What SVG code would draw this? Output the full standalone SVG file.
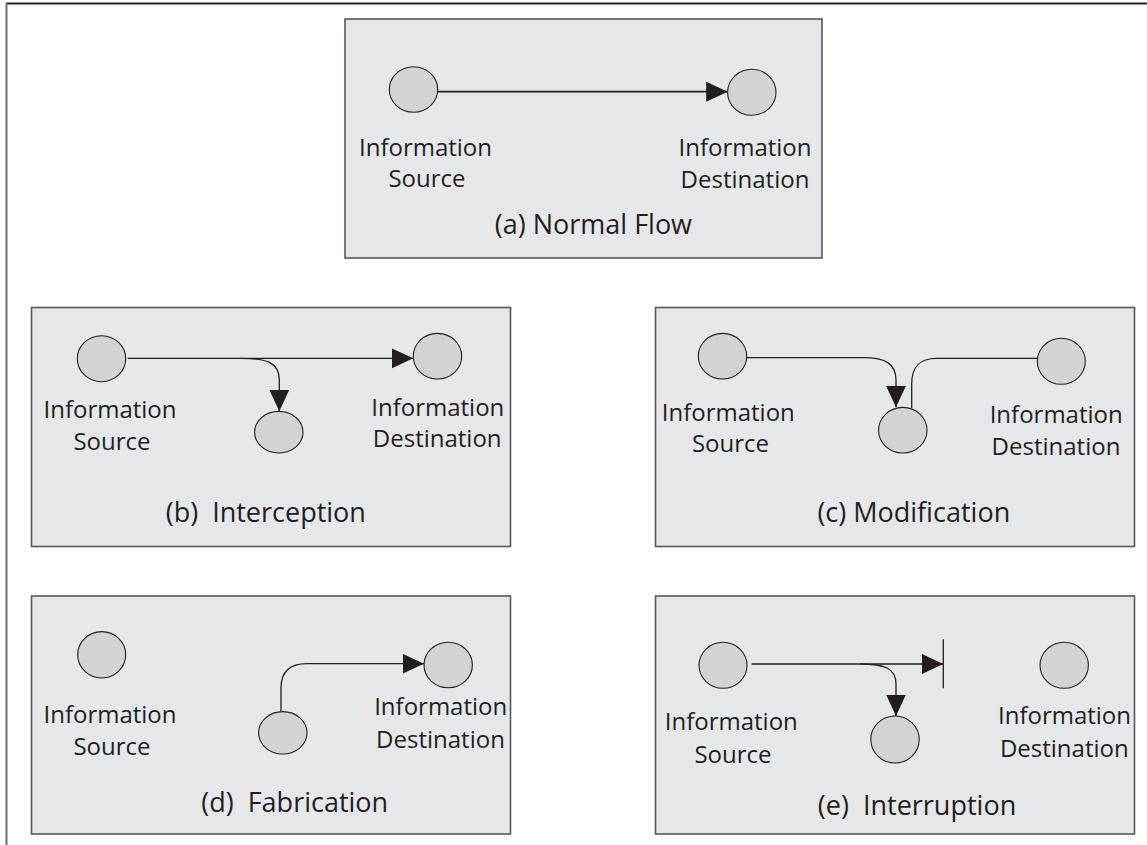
<svg xmlns="http://www.w3.org/2000/svg" width="1147" height="845" viewBox="0 0 1147 845">
<style>
.panel{fill:#e6e7e8;stroke:#58595b;stroke-width:1.6}
.node{fill:#d1d3d4;stroke:#231f20;stroke-width:1.1}
.lbl{font-family:"Open Sans","Liberation Sans",sans-serif;font-size:24px;fill:#231f20;text-anchor:middle}
.cap{font-family:"Open Sans","Liberation Sans",sans-serif;font-size:27px;fill:#231f20;text-anchor:middle}
.edge{fill:none;stroke:#231f20;stroke-width:1.3}
</style>
<defs>
<marker id="arr" markerUnits="userSpaceOnUse" markerWidth="22" markerHeight="21" refX="21.5" refY="10.5" orient="auto">
<path d="M0,0.5 L21.5,10.5 L0,20.5 z" fill="#231f20"/>
</marker>
</defs>
<rect width="1147" height="845" fill="#ffffff"/>
<g id="frame">
<line x1="6" y1="3.5" x2="1147" y2="3.5" stroke="#231f20" stroke-width="2"/>
<line x1="6.5" y1="3" x2="6.5" y2="845" stroke="#6d6e71" stroke-width="2"/>
</g>
<g id="panels">
<rect class="panel" x="345" y="19" width="477" height="239"/>
<rect class="panel" x="31.5" y="307.5" width="479" height="239"/>
<rect class="panel" x="655.5" y="307.5" width="479" height="239"/>
<rect class="panel" x="31.5" y="596" width="479" height="238"/>
<rect class="panel" x="655.5" y="596" width="479" height="238"/>
</g>
<g id="connectors">
<line class="edge" x1="437.7" y1="91.7" x2="727.7" y2="91.7" marker-end="url(#arr)" style="stroke-width:1.8"/>
<line class="edge" x1="127.7" y1="358.3" x2="413.3" y2="358.3" marker-end="url(#arr)"/>
<path class="edge" d="M240,358.3 C266,358.3 279.3,362 279.3,380 L279.3,411.3" marker-end="url(#arr)"/>
<path class="edge" d="M746.7,357.7 L863.3,357.7 C886,357.7 896,364 896,380 L896,407.3" marker-end="url(#arr)"/>
<path class="edge" d="M1037.3,358.3 L936.7,358.3 C920,358.3 911.7,366 911.7,384 L911.7,408.3"/>
<path class="edge" d="M281,711.7 L281,688 C281,672 290,663.7 307,663.7 L424,663.7" marker-end="url(#arr)"/>
<line class="edge" x1="751.7" y1="664" x2="943.3" y2="664" marker-end="url(#arr)"/>
<line class="edge" x1="943.3" y1="639.3" x2="943.3" y2="688.3"/>
<path class="edge" d="M860,664 C884,664 896,668 896,684 L896,716" marker-end="url(#arr)"/>
</g>
<g id="panel-a">
<ellipse id="a-src" class="node" cx="413.5" cy="89.5" rx="24.2" ry="22.8"/>
<ellipse id="a-dst" class="node" cx="751.8" cy="92.3" rx="24.2" ry="23"/>
<text class="lbl" x="425.5" y="155.7">Information</text>
<text class="lbl" x="427" y="186.7">Source</text>
<text class="lbl" x="745" y="156">Information</text>
<text class="lbl" x="745" y="187.5">Destination</text>
<text class="cap" x="593.4" y="234">(a) Normal Flow</text>
</g>
<g id="panel-b">
<ellipse id="b-src" class="node" cx="101.5" cy="358.7" rx="24.2" ry="23"/>
<ellipse id="b-dst" class="node" cx="437.5" cy="356.2" rx="24.2" ry="22.8"/>
<ellipse id="b-mid" class="node" cx="278.8" cy="432.2" rx="24.2" ry="20.8"/>
<text class="lbl" x="110" y="418.3">Information</text>
<text class="lbl" x="112" y="450">Source</text>
<text class="lbl" x="437.8" y="415.7">Information</text>
<text class="lbl" x="437.2" y="446.7">Destination</text>
<text class="cap" x="265.8" y="521.7" xml:space="preserve">(b)  Interception</text>
</g>
<g id="panel-c">
<ellipse id="c-src" class="node" cx="722.5" cy="356.2" rx="24.2" ry="22.8"/>
<ellipse id="c-dst" class="node" cx="1061.3" cy="361.3" rx="24" ry="23"/>
<ellipse id="c-mid" class="node" cx="902.8" cy="430.2" rx="24.2" ry="22.8"/>
<text class="lbl" x="728.3" y="420.7">Information</text>
<text class="lbl" x="730.5" y="452.3">Source</text>
<text class="lbl" x="1056.2" y="423.3">Information</text>
<text class="lbl" x="1056" y="455">Destination</text>
<text class="cap" x="913.8" y="521.7">(c) Modification</text>
</g>
<g id="panel-d">
<ellipse id="d-src" class="node" cx="101.7" cy="654.8" rx="24" ry="23.2"/>
<ellipse id="d-dst" class="node" cx="448.2" cy="665" rx="24.2" ry="22.7"/>
<ellipse id="d-mid" class="node" cx="282.8" cy="732.8" rx="24.2" ry="21.2"/>
<text class="lbl" x="110" y="723.3">Information</text>
<text class="lbl" x="112" y="755">Source</text>
<text class="lbl" x="440.7" y="715">Information</text>
<text class="lbl" x="440.5" y="748">Destination</text>
<text class="cap" x="294.7" y="811.7" xml:space="preserve">(d)  Fabrication</text>
</g>
<g id="panel-e">
<ellipse id="e-src" class="node" cx="723" cy="665.3" rx="24" ry="23"/>
<ellipse id="e-dst" class="node" cx="1064.2" cy="665.3" rx="24.2" ry="23"/>
<ellipse id="e-mid" class="node" cx="895" cy="739.5" rx="24.2" ry="23.5"/>
<text class="lbl" x="731.3" y="730">Information</text>
<text class="lbl" x="733" y="762.7">Source</text>
<text class="lbl" x="1064.5" y="724.3">Information</text>
<text class="lbl" x="1064.3" y="756.7">Destination</text>
<text class="cap" x="917" y="815" xml:space="preserve">(e)  Interruption</text>
</g>
</svg>
